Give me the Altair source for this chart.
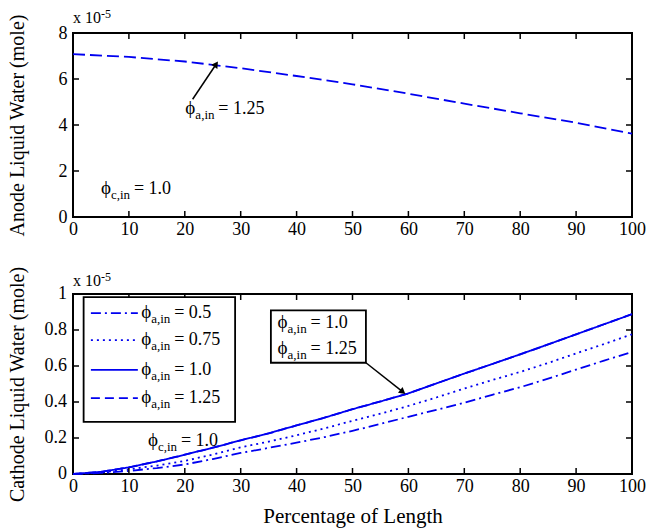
import altair as alt
import pandas as pd

# ---------------- data ----------------
pos_a = [0, 10, 20, 30, 40, 50, 60, 70, 80, 90, 100]
anode_125 = [7.08, 6.96, 6.76, 6.47, 6.13, 5.77, 5.36, 4.93, 4.51, 4.10, 3.62]

pos_c = [0, 5, 10, 15, 20, 25, 30, 35, 40, 45, 50, 55, 60, 65, 70, 75, 80, 85, 90, 95, 100]
cath_050 = [0, 0.006, 0.017, 0.033, 0.053, 0.083, 0.117, 0.145, 0.174, 0.205, 0.240,
            0.278, 0.318, 0.356, 0.396, 0.440, 0.482, 0.530, 0.580, 0.630, 0.678]
cath_075 = [0, 0.008, 0.026, 0.047, 0.073, 0.108, 0.148, 0.180, 0.215, 0.254, 0.295,
            0.335, 0.378, 0.425, 0.475, 0.522, 0.567, 0.617, 0.670, 0.722, 0.776]
cath_100 = [0, 0.012, 0.037, 0.070, 0.107, 0.146, 0.187, 0.226, 0.270, 0.313, 0.360,
            0.403, 0.448, 0.503, 0.558, 0.611, 0.665, 0.720, 0.776, 0.832, 0.888]
cath_125 = [0, 0.012, 0.037, 0.070, 0.107, 0.146, 0.187, 0.226, 0.270, 0.313, 0.360,
            0.403, 0.448, 0.503, 0.558, 0.611, 0.665, 0.720, 0.776, 0.832, 0.888]

series_names = ["0.5", "0.75", "1.0", "1.25"]
x_ticks = [0, 10, 20, 30, 40, 50, 60, 70, 80, 90, 100]
x_inner = [10, 20, 30, 40, 50, 60, 70, 80, 90]
ya_ticks = [0, 2, 4, 6, 8]
ya_inner = [2, 4, 6]
yc_ticks = [0, 0.2, 0.4, 0.6, 0.8, 1]
yc_labels = ["0", "0.2", "0.4", "0.6", "0.8", "1"]
yc_inner = [0.2, 0.4, 0.6, 0.8]

# annotations (data coordinates)
top_notes = pd.DataFrame({"x": [20.1, 5.0], "y": [4.48, 1.0],
                          "sub": ["a,in", "c,in"], "rest": ["= 1.25", "= 1.0"]})
bot_notes = pd.DataFrame({"x": [12.2, 12.2, 12.2, 12.2, 36.6, 36.6, 13.4],
                          "y": [0.867, 0.717, 0.550, 0.394, 0.813, 0.665, 0.156],
                          "sub": ["a,in"] * 6 + ["c,in"],
                          "rest": ["= 0.5", "= 0.75", "= 1.0", "= 1.25", "= 1.0", "= 1.25", "= 1.0"]})
legend_rows = pd.DataFrame({"x": [3.2] * 4, "x2": [11.6] * 4,
                            "y": [0.894, 0.744, 0.578, 0.422], "s": series_names})
legend_box = pd.DataFrame({"x": [1.9, 35.4], "x2": [29.0, 52.4], "y": [0.983, 0.909], "y2": [0.29, 0.618]})
arrow_top = pd.DataFrame({"x": [21.4], "y": [5.12], "x2": [25.6], "y2": [6.64]})
arrow_bot = pd.DataFrame({"x": [52.4], "y": [0.618], "x2": [59.0], "y2": [0.456]})

FONT = "Liberation Serif"
BLUE = "#0000f0"
W = 559
H_TOP = 184
H_BOT = 180
dash_range = [[10, 4, 2, 4], [2, 4], [1, 0], [9, 5]]

xscale = alt.Scale(domain=[0, 100], nice=False, zero=False)
ya_scale = alt.Scale(domain=[0, 8], nice=False)
yc_scale = alt.Scale(domain=[0, 1], nice=False)
dash_scale = alt.Scale(domain=series_names, range=dash_range)


def x_axis(title=None):
    kw = dict(values=x_ticks, ticks=False, domain=False, grid=False, labelFont=FONT,
              labelFontSize=18, labelColor="black", labelPadding=3, labelFlush=False,
              labelOverlap=False)
    if title:
        kw.update(title=title, titleFont=FONT, titleFontSize=21, titleFontWeight="normal",
                  titleColor="black", titlePadding=10)
    else:
        kw.update(title=None)
    return alt.Axis(**kw)


def y_axis(values, title, labels=True):
    return alt.Axis(values=values, ticks=False, domain=False, grid=False, labels=labels,
                    labelFont=FONT, labelFontSize=18, labelColor="black", labelPadding=6,
                    labelOverlap=False, labelFlush=False,
                    title=title, titleFont=FONT, titleFontSize=20, titleFontWeight="normal",
                    titleColor="black", titleX=-46)


def inner_ticks(xvals, yvals, yscale, h):
    dx = pd.DataFrame({"x": xvals})
    dy = pd.DataFrame({"y": yvals})
    t = []
    t.append(alt.Chart(dx).mark_rule(color="black", strokeWidth=1.5).encode(
        x=alt.X("x:Q", scale=xscale), y=alt.value(h), y2=alt.value(h - 6)))
    t.append(alt.Chart(dx).mark_rule(color="black", strokeWidth=1.5).encode(
        x=alt.X("x:Q", scale=xscale), y=alt.value(0), y2=alt.value(6)))
    t.append(alt.Chart(dy).mark_rule(color="black", strokeWidth=1.5).encode(
        y=alt.Y("y:Q", scale=yscale), x=alt.value(0), x2=alt.value(6)))
    t.append(alt.Chart(dy).mark_rule(color="black", strokeWidth=1.5).encode(
        y=alt.Y("y:Q", scale=yscale), x=alt.value(W - 6), x2=alt.value(W)))
    return t


def phi_text(df, yscale, size=18, sub_size=13, sub_dx=10, rest_dx=33):
    base = alt.Chart(df).encode(x=alt.X("x:Q", scale=xscale), y=alt.Y("y:Q", scale=yscale))
    l1 = base.mark_text(align="left", baseline="alphabetic", font=FONT, fontSize=size + 1,
                        color="black").encode(text=alt.value("ϕ"))
    l2 = base.mark_text(align="left", baseline="alphabetic", font=FONT, fontSize=sub_size,
                        dx=sub_dx, dy=5, color="black").encode(text="sub:N")
    l3 = base.mark_text(align="left", baseline="alphabetic", font=FONT, fontSize=size,
                        dx=rest_dx, color="black").encode(text="rest:N")
    return [l1, l2, l3]


def exp_label(ybase):
    d = pd.DataFrame({"t": ["x 10"], "e": ["-5"]})
    a = alt.Chart(d).mark_text(align="left", baseline="alphabetic", font=FONT, fontSize=16,
                               color="black").encode(text="t:N", x=alt.value(0), y=alt.value(ybase))
    b = alt.Chart(d).mark_text(align="left", baseline="alphabetic", font=FONT, fontSize=12,
                               color="black").encode(text="e:N", x=alt.value(28), y=alt.value(ybase - 5))
    return [a, b]


def arrow(df, yscale, angle):
    r = alt.Chart(df).mark_rule(color="black", strokeWidth=1.5).encode(
        x=alt.X("x:Q", scale=xscale), y=alt.Y("y:Q", scale=yscale), x2="x2:Q", y2="y2:Q")
    p = alt.Chart(df).mark_point(shape="triangle-up", filled=True, size=55, color="black",
                                 opacity=1, angle=angle).encode(
        x=alt.X("x2:Q", scale=xscale), y=alt.Y("y2:Q", scale=yscale))
    return [r, p]


# ---------------- top panel ----------------
top_df = pd.DataFrame({"x": pos_a, "y": anode_125})
top_line = alt.Chart(top_df).mark_line(color=BLUE, strokeWidth=1.8, strokeDash=[12, 5]).encode(
    x=alt.X("x:Q", scale=xscale, axis=x_axis()),
    y=alt.Y("y:Q", scale=ya_scale, axis=y_axis(ya_ticks, "Anode Liquid Water (mole)")))

top = alt.layer(top_line, *inner_ticks(x_inner, ya_inner, ya_scale, H_TOP),
                *arrow(arrow_top, ya_scale, 34),
                *phi_text(top_notes, ya_scale), *exp_label(-10)).properties(width=W, height=H_TOP)

# ---------------- bottom panel ----------------
rows = []
for name, vals in zip(series_names, [cath_050, cath_075, cath_100, cath_125]):
    for xv, yv in zip(pos_c, vals):
        rows.append({"x": xv, "y": yv, "s": name})
bot_df = pd.DataFrame(rows)

bot_lines = alt.Chart(bot_df).mark_line(color=BLUE, strokeWidth=1.8).encode(
    x=alt.X("x:Q", scale=xscale, axis=x_axis("Percentage of Length")),
    y=alt.Y("y:Q", scale=yc_scale,
            axis=y_axis(yc_ticks, "Cathode Liquid Water (mole)", labels=False)),
    strokeDash=alt.StrokeDash("s:N", scale=dash_scale, legend=None),
    detail="s:N")

ylab_df = pd.DataFrame({"y": yc_ticks, "lab": yc_labels})
ylabs = alt.Chart(ylab_df).mark_text(align="right", baseline="middle", font=FONT, fontSize=18,
                                     color="black", dx=-6).encode(
    y=alt.Y("y:Q", scale=yc_scale), x=alt.value(0), text="lab:N")

boxes = alt.Chart(legend_box).mark_rect(fill="white", stroke="black", strokeWidth=1.8).encode(
    x=alt.X("x:Q", scale=xscale), x2="x2:Q", y=alt.Y("y:Q", scale=yc_scale), y2="y2:Q")

leg_lines = alt.Chart(legend_rows).mark_rule(color=BLUE, strokeWidth=1.8).encode(
    x=alt.X("x:Q", scale=xscale), x2="x2:Q", y=alt.Y("y:Q", scale=yc_scale),
    strokeDash=alt.StrokeDash("s:N", scale=dash_scale, legend=None))

bottom = alt.layer(bot_lines, *inner_ticks(x_inner, yc_inner, yc_scale, H_BOT), ylabs, boxes,
                   leg_lines, *arrow(arrow_bot, yc_scale, 128),
                   *phi_text(bot_notes, yc_scale), *exp_label(-8)).properties(width=W, height=H_BOT)

chart = alt.vconcat(top, bottom, spacing=77, bounds="flush").properties(
    padding={"left": 5, "top": 7, "right": 0, "bottom": 4}
).configure(background="white").configure_view(
    stroke="black", strokeWidth=2
).configure_axis(labelOverlap=False)

chart.save("out.html", embed_options={"renderer": "svg", "actions": False})
